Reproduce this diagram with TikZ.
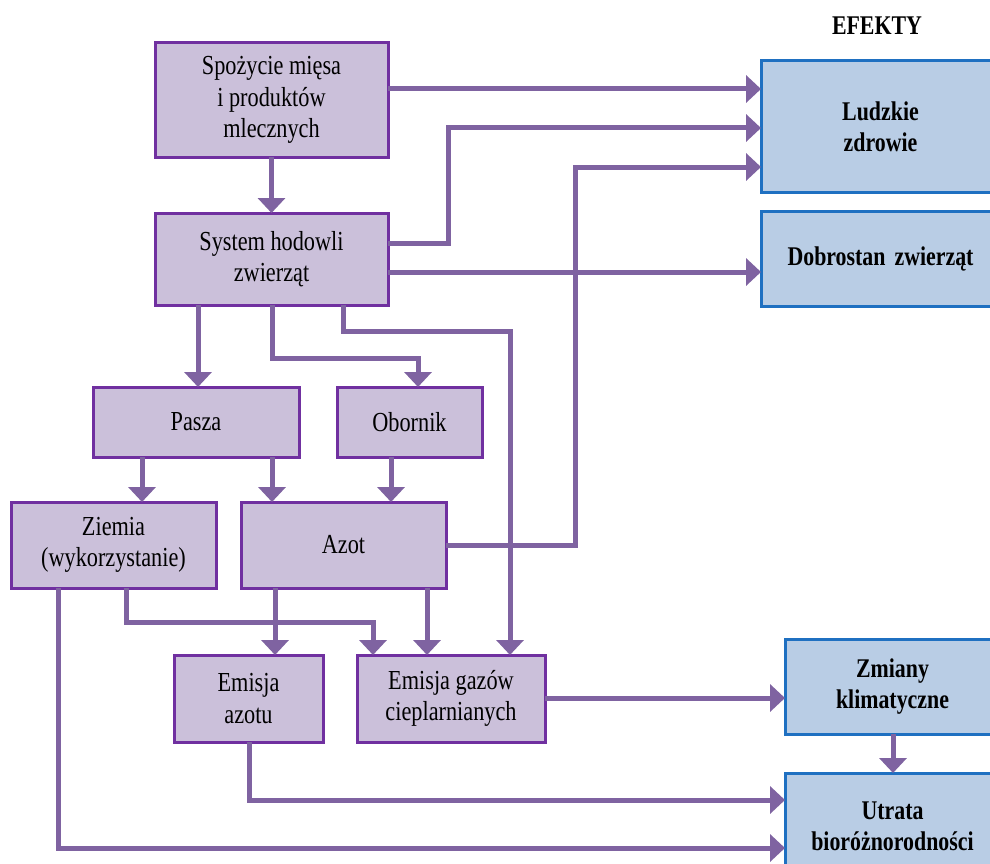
\documentclass[tikz,border=0pt]{standalone}
\usepackage{fontspec}
\setmainfont{Liberation Serif}[FakeStretch=0.81]
\usetikzlibrary{arrows.meta}
\definecolor{lineP}{HTML}{7F63A1}
\definecolor{borderP}{HTML}{7030A0}
\definecolor{fillP}{HTML}{CBC0DA}
\definecolor{borderB}{HTML}{1F70C1}
\definecolor{fillB}{HTML}{B9CDE5}
\begin{document}
\begin{tikzpicture}[x=1pt,y=1pt,
  pbox/.style={draw=borderP, fill=fillP, line width=3pt, inner sep=0pt, outer sep=0pt, align=center, font=\fontsize{27.5}{31.5}\selectfont},
  effbox/.style={draw=borderB, fill=fillB, line width=3pt, inner sep=0pt, outer sep=0pt, align=center, font=\fontsize{27}{31}\selectfont\bfseries},
  arr/.style={draw=lineP, line width=5pt, -{Triangle[width=27pt,length=15pt]}}]
\useasboundingbox (0,0) rectangle (990,-864);

\node[font=\fontsize{27}{31}\selectfont\bfseries] (ef) at (877,-26) {EFEKTY};

\node[pbox, minimum width=233pt, minimum height=114pt] (sp) at (271.5,-100) {Spożycie mięsa\\i produktów\\mlecznych};
\node[pbox, minimum width=233pt, minimum height=92pt] (sys) at (271.5,-259) {System hodowli\\zwierząt};
\node[pbox, minimum width=206pt, minimum height=70pt] (pasza) at (196,-422) {Pasza};
\node[pbox, minimum width=145pt, minimum height=70pt] (obornik) at (409.5,-422) {Obornik};
\node[pbox, minimum width=205pt, minimum height=86pt] (ziemia) at (113.5,-545) {Ziemia\\(wykorzystanie)};
\node[pbox, minimum width=205pt, minimum height=86pt] (azot) at (343.5,-545) {Azot};
\node[pbox, minimum width=149pt, minimum height=87pt] (emaz) at (248.5,-698.5) {Emisja\\azotu};
\node[pbox, minimum width=188pt, minimum height=87pt] (emgaz) at (451,-698.5) {Emisja gazów\\cieplarnianych};

\node[effbox, minimum width=239pt, minimum height=131pt, text width=239pt] (ludz) at (880.5,-126.5) {Ludzkie\\zdrowie};
\node[effbox, minimum width=239pt, minimum height=95pt, text width=239pt] (dob) at (880.5,-258.5) {Dobrostan zwierząt};
\node[effbox, minimum width=215pt, minimum height=95pt, text width=215pt] (zmiany) at (892.5,-686.5) {Zmiany\\klimatyczne};
\node[effbox, minimum width=215pt, minimum height=106pt, text width=215pt] (utrata) at (892.5,-826) {Utrata\\bioróżnorodności};

% connectors
\draw[arr] (sp.east |- 0,-89) -- (ludz.west |- 0,-89);
\draw[arr] (sys.east |- 0,-243) -| (448,-128) -- (ludz.west |- 0,-128);
\draw[arr] (azot.east |- 0,-545) -| (575,-167) -- (ludz.west |- 0,-167);
\draw[arr] (sys.east |- 0,-272) -- (dob.west |- 0,-272);
\draw[arr] (sp.south) -- (sys.north);
\draw[arr] (sys.south -| 198,0) -- (pasza.north -| 198,0);
\draw[arr] (sys.south -| 272,0) |- (418,-358) -- (obornik.north -| 418,0);
\draw[arr] (sys.south -| 343,0) |- (510,-331) -- (emgaz.north -| 510,0);
\draw[arr] (pasza.south -| 142,0) -- (ziemia.north -| 142,0);
\draw[arr] (pasza.south -| 272,0) -- (azot.north -| 272,0);
\draw[arr] (obornik.south -| 391,0) -- (azot.north -| 391,0);
\draw[arr] (ziemia.south -| 58,0) |- (utrata.west |- 0,-848);
\draw[arr] (ziemia.south -| 126,0) |- (373,-622) -- (emgaz.north -| 373,0);
\draw[arr] (azot.south -| 275,0) -- (emaz.north -| 275,0);
\draw[arr] (azot.south -| 427,0) -- (emgaz.north -| 427,0);
\draw[arr] (emaz.south -| 249,0) |- (utrata.west |- 0,-800);
\draw[arr] (emgaz.east |- 0,-698) -- (zmiany.west |- 0,-698);
\draw[arr] (zmiany.south -| 893,0) -- (utrata.north -| 893,0);
\end{tikzpicture}
\end{document}
